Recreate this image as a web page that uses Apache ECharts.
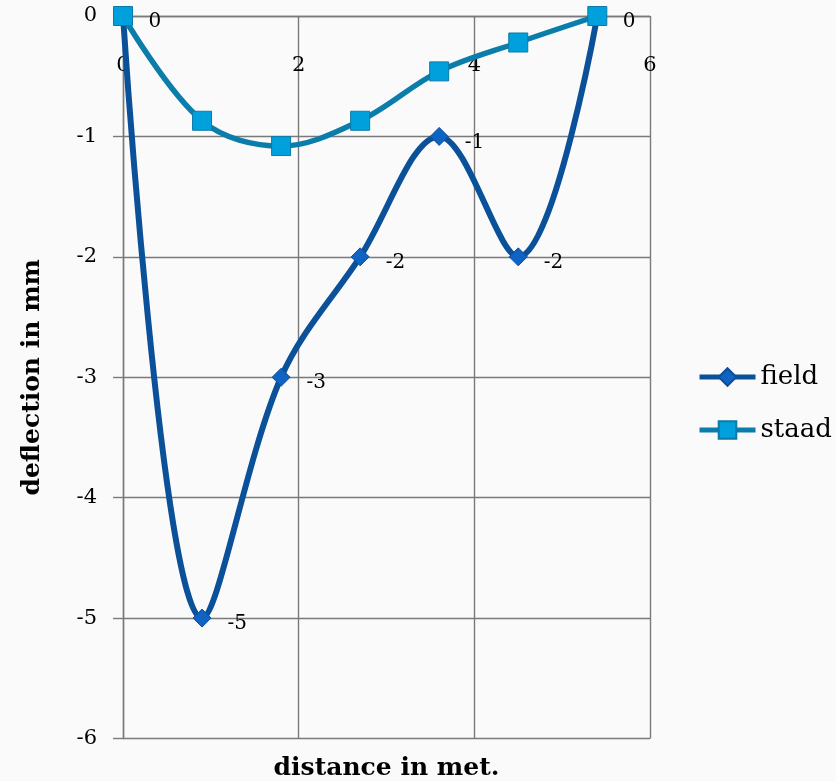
<!DOCTYPE html>
<html>
<head>
<meta charset="utf-8">
<script src="https://cdn.jsdelivr.net/npm/echarts@6/dist/echarts.min.js"></script>
<style>
  html, body { margin: 0; padding: 0; background: #fafafa; }
  #chart { width: 836px; height: 781px; }
</style>
</head>
<body>
<div id="chart"></div>
<script>
// distance along the beam (m)
const distance = [0, 0.9, 1.8, 2.7, 3.6, 4.5, 5.4];
// measured deflection (mm)
const field = [0, -5, -3, -2, -1, -2, 0];
// computed deflection (mm)
const staad = [0, -0.87, -1.08, -0.87, -0.46, -0.22, 0];

const seriesNames = ['field', 'staad'];
const xTitle = 'distance in met.';
const yTitle = 'deflection in mm';

const FONT = '"DejaVu Serif", "Liberation Serif", serif';
const GRID_COLOR = '#7a7a7a';

const pairs = (xs, ys) => xs.map((x, i) => [x, ys[i]]);

const chart = echarts.init(document.getElementById('chart'), null, { renderer: 'canvas' });

chart.setOption({
  backgroundColor: '#fafafa',
  animation: false,
  textStyle: { fontFamily: FONT },
  grid: { left: 123, right: 186, top: 16, bottom: 38, containLabel: false },
  legend: {
    orient: 'vertical',
    left: 697,
    top: 364,
    padding: 0,
    itemWidth: 56,
    itemHeight: 22,
    itemGap: 27,
    data: seriesNames,
    lineStyle: { width: 5 },
    textStyle: { fontFamily: FONT, fontSize: 26, color: '#000' }
  },
  xAxis: {
    type: 'value',
    position: 'top',
    min: 0,
    max: 6,
    interval: 2,
    name: xTitle,
    nameLocation: 'middle',
    nameGap: -752,
    nameTextStyle: { fontFamily: FONT, fontSize: 25, fontWeight: 'bold', color: '#000',
                     verticalAlign: 'middle' },
    axisLine: { show: true, onZero: false, lineStyle: { color: GRID_COLOR, width: 1.4 } },
    axisTick: { show: false },
    axisLabel: { inside: true, margin: 39, fontSize: 21, color: '#000', fontFamily: FONT },
    splitLine: { show: true, lineStyle: { color: GRID_COLOR, width: 1.4 } }
  },
  yAxis: {
    type: 'value',
    min: -6,
    max: 0,
    interval: 1,
    name: yTitle,
    nameLocation: 'middle',
    nameGap: 78,
    nameRotate: 90,
    nameTextStyle: { fontFamily: FONT, fontSize: 25, fontWeight: 'bold', color: '#000' },
    axisLine: { show: true, onZero: false, lineStyle: { color: GRID_COLOR, width: 1.4 } },
    axisTick: { show: true, inside: false, length: 10, lineStyle: { color: GRID_COLOR, width: 1.4 } },
    axisLabel: { margin: 26, fontSize: 21, color: '#000', fontFamily: FONT },
    splitLine: { show: true, lineStyle: { color: GRID_COLOR, width: 1.4 } }
  },
  series: [
    {
      name: seriesNames[0],
      type: 'line',
      data: pairs(distance, field),
      smooth: 0.35,
      symbol: 'diamond',
      symbolSize: 18,
      lineStyle: { color: '#0b519a', width: 6 },
      itemStyle: { color: '#0f63c2', borderColor: '#0c4f96', borderWidth: 1 },
      label: {
        show: true,
        position: 'right',
        distance: 16,
        offset: [0, 6],
        fontSize: 20,
        color: '#000',
        fontFamily: FONT
      },
      z: 2
    },
    {
      name: seriesNames[1],
      type: 'line',
      data: pairs(distance, staad),
      smooth: 0.35,
      symbol: 'rect',
      symbolSize: 19,
      lineStyle: { color: '#0b7dab', width: 5.5 },
      itemStyle: { color: '#00a0dc', borderColor: '#0c7aa8', borderWidth: 1 },
      z: 3
    }
  ]
});
</script>
</body>
</html>
